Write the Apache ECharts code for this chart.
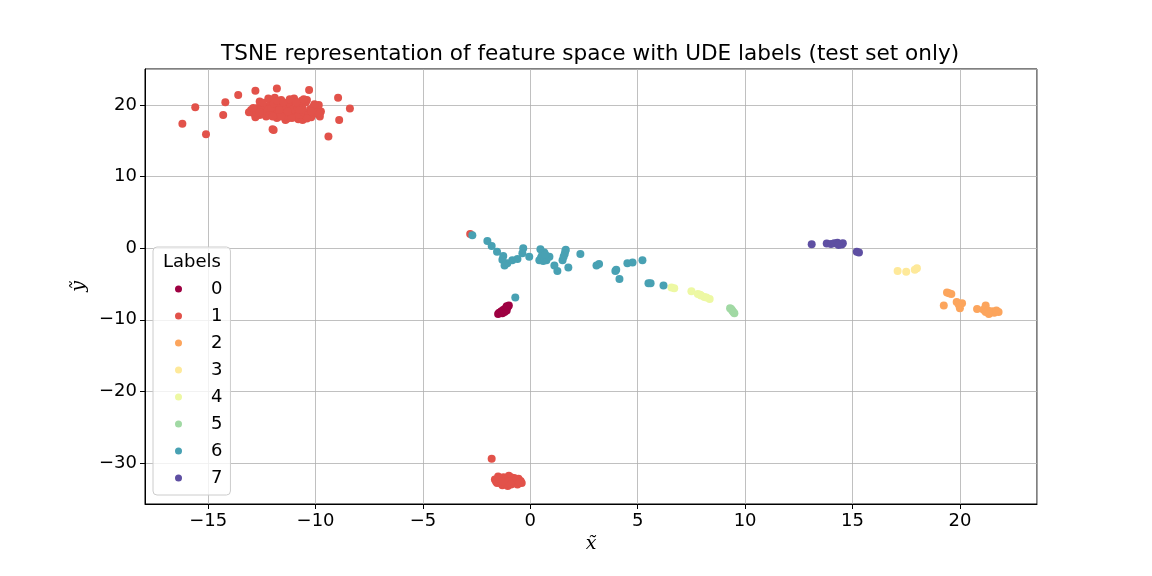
<!DOCTYPE html>
<html>
<head>
<meta charset="utf-8">
<script src="https://cdn.jsdelivr.net/npm/echarts@6/dist/echarts.min.js"></script>
<style>
  html, body { margin: 0; padding: 0; background: #fff; }
  #chart { width: 1152px; height: 576px; }
</style>
</head>
<body>
<div id="chart"></div>
<script>
  // label names and Spectral colours
  const labelNames = ["0", "1", "2", "3", "4", "5", "6", "7"];
  const labelColors = ["#9e0142", "#e2524a", "#fca55d", "#fee99a", "#edf8a3", "#a1d9a4", "#48a1b3", "#5e4fa2"];

  // tSNE points per label
  const label0 = [[-1.5, -9.2], [-1.45, -9.0], [-1.35, -8.8], [-1.3, -9.1], [-1.25, -8.6], [-1.2, -8.9],
    [-1.15, -8.4], [-1.1, -8.7], [-1.05, -8.2], [-1.0, -8.0], [-1.1, -8.1]];

  const label1 = [[-16.2, 17.4], [-15.6, 19.7], [-15.1, 15.9], [-14.3, 18.6], [-14.2, 20.4], [-13.6, 21.4],
    [-12.8, 22.0], [-11.8, 22.3], [-10.3, 22.1], [-8.95, 21.0], [-8.4, 19.5], [-8.9, 17.9], [-9.4, 15.6],
    [-12.0, 16.6], [-11.95, 16.5],
    [-13.0, 19.3], [-12.9, 18.9], [-12.7, 19.6], [-12.6, 18.6], [-12.5, 20.1], [-12.4, 19.0], [-12.3, 18.4],
    [-12.2, 19.8], [-12.1, 20.5], [-12.0, 18.9], [-11.9, 19.4], [-11.8, 18.2], [-11.7, 20.0], [-11.6, 20.7],
    [-11.5, 18.7], [-11.4, 19.3], [-11.3, 18.1], [-11.2, 19.9], [-11.1, 20.6], [-11.0, 18.5], [-10.9, 19.1],
    [-10.8, 18.0], [-10.7, 20.2], [-10.6, 19.5], [-10.5, 18.6], [-10.4, 20.7], [-10.3, 19.0], [-10.2, 18.3],
    [-10.1, 19.8], [-10.0, 18.8], [-9.9, 19.5], [-9.8, 18.4], [-9.75, 19.1], [-12.8, 18.3], [-12.2, 20.9],
    [-11.0, 20.9], [-11.4, 17.9], [-10.6, 17.9], [-12.6, 20.5], [-9.85, 20.0], [-11.9, 21.0], [-13.1, 19.0],
    [-10.45, 20.4], [-11.65, 19.6], [-12.35, 19.4],
    [-12.75, 19.0], [-12.55, 19.3], [-12.45, 18.8], [-12.25, 19.1], [-12.15, 18.6], [-12.05, 19.6],
    [-11.95, 20.2], [-11.85, 18.7], [-11.75, 19.1], [-11.55, 19.0], [-11.45, 18.4], [-11.35, 19.7],
    [-11.25, 20.3], [-11.15, 18.8], [-11.05, 19.4], [-10.95, 18.3], [-10.85, 19.7], [-10.75, 18.6],
    [-10.65, 20.6], [-10.55, 19.0], [-10.35, 18.6], [-10.25, 19.4], [-10.15, 18.9], [-10.05, 20.1],
    [-9.95, 19.0], [-9.8, 18.8], [-11.8, 20.6], [-11.5, 20.4], [-11.2, 20.8], [-10.9, 20.4], [-10.55, 20.8],
    [-12.45, 20.3], [-12.0, 18.4], [-11.6, 18.4], [-11.1, 18.2], [-10.4, 18.1], [-12.9, 19.6], [-12.6, 19.0],
    [-11.3, 19.1], [-10.75, 19.3], [-10.2, 19.1], [-11.7, 19.3],
    [-2.8, 2.0],
    [-1.8, -29.4], [-1.65, -32.3], [-1.55, -32.8], [-1.5, -31.9], [-1.4, -32.5], [-1.3, -33.1], [-1.25, -32.0],
    [-1.15, -32.6], [-1.05, -33.2], [-1.0, -31.8], [-0.95, -32.3], [-0.85, -32.9], [-0.75, -32.1], [-0.7, -32.6],
    [-0.6, -33.0], [-0.55, -32.2], [-0.45, -32.5], [-0.4, -32.8], [-1.35, -32.9], [-0.9, -32.0],
    [-1.6, -32.6], [-1.45, -32.2], [-1.2, -32.3], [-1.1, -32.9], [-0.8, -32.5], [-0.65, -32.3], [-0.5, -32.7],
    [-1.3, -32.6], [-1.0, -32.6], [-0.9, -33.0]];

  const label2 = [[19.4, -6.2], [19.6, -6.4], [19.5, -6.3], [19.25, -8.0], [19.85, -7.5], [20.1, -7.7],
    [20.0, -8.4], [19.95, -7.9], [20.8, -8.5], [21.2, -8.0], [21.1, -8.6], [21.2, -8.9], [21.3, -8.7],
    [21.4, -9.0], [21.5, -8.8], [21.6, -9.0], [21.7, -8.7], [21.8, -8.9], [21.35, -9.2]];

  const label3 = [[17.1, -3.2], [17.5, -3.3], [17.9, -3.0], [18.0, -2.8]];

  const label4 = [[6.57, -5.5], [6.7, -5.6], [7.5, -6.0], [7.8, -6.4], [7.95, -6.6], [8.1, -6.8],
    [8.35, -7.1], [8.2, -6.9], [7.9, -6.5]];

  const label5 = [[9.3, -8.4], [9.4, -8.7], [9.45, -8.9], [9.5, -9.1], [9.35, -8.5]];

  const label6 = [[-2.7, 1.8], [-2.0, 1.0], [-1.8, 0.3], [-1.55, -0.5], [-1.26, -1.1], [-1.07, -2.1],
    [-0.84, -1.7], [-0.6, -1.5], [-0.33, 0.0], [-0.37, -0.7], [-0.05, -1.2], [0.47, -0.14], [0.65, -0.6],
    [0.42, -1.7], [0.75, -1.7], [0.89, -1.2], [1.12, -2.4], [1.26, -3.2], [1.5, -1.7], [1.63, -0.4],
    [1.77, -2.7], [2.33, -0.8], [3.08, -2.4], [3.2, -2.2], [3.96, -3.2], [4.15, -4.3], [4.52, -2.1],
    [4.76, -2.0], [5.22, -1.7], [5.5, -4.9], [5.6, -4.9], [6.2, -5.2], [-0.7, -6.9],
    [-1.3, -1.6], [-1.2, -2.4], [0.5, -1.3], [0.6, -1.8], [0.55, -1.0], [0.7, -0.9],
    [1.6, -0.8], [1.55, -1.2], [1.65, -0.2], [4.0, -3.0]];

  const label7 = [[13.1, 0.56], [13.8, 0.65], [14.0, 0.6], [14.15, 0.7], [14.3, 0.75], [14.4, 0.6],
    [14.5, 0.5], [14.55, 0.7], [14.35, 0.45], [15.2, -0.5], [15.3, -0.6]];

  const labelData = [label0, label1, label2, label3, label4, label5, label6, label7];

  const xRange = [-17.94, 23.59];
  const yRange = [-35.73, 25.03];

  const fontFamily = "DejaVu Sans";
  const fmt = v => String(v).replace("-", "\u2212");

  const chart = echarts.init(document.getElementById("chart"));

  const series = labelNames.map((name, i) => ({
    name: name,
    type: "scatter",
    data: labelData[i],
    symbolSize: 8,
    itemStyle: { color: labelColors[i], opacity: 1 },
    emphasis: { disabled: true }
  }));

  chart.setOption({
    animation: false,
    textStyle: { fontFamily: fontFamily },
    title: {
      text: "TSNE representation of feature space with UDE labels (test set only)",
      left: 221,
      top: 43,
      padding: 0,
      textStyle: { fontSize: 21.6, fontWeight: "normal", color: "#000", fontFamily: fontFamily }
    },
    grid: {
      left: 145, right: 115, top: 69, bottom: 72,
      show: true, borderColor: "#000", borderWidth: 1, backgroundColor: "transparent"
    },
    xAxis: {
      type: "value",
      min: xRange[0], max: xRange[1],
      splitNumber: 8, minInterval: 5, maxInterval: 5,
      name: "x\u0303",
      nameLocation: "middle",
      nameGap: 30,
      nameTextStyle: { fontSize: 19, fontStyle: "italic", color: "#000", fontFamily: "DejaVu Serif" },
      axisLine: { show: true, onZero: false, lineStyle: { color: "#000", width: 1 } },
      axisTick: { show: true, length: 5, lineStyle: { color: "#000" } },
      axisLabel: { fontSize: 18, color: "#000", margin: 8, showMinLabel: false, showMaxLabel: false, formatter: fmt },
      splitLine: { show: true, lineStyle: { color: "#b0b0b0", width: 0.8 } }
    },
    yAxis: {
      type: "value",
      min: yRange[0], max: yRange[1],
      splitNumber: 6, minInterval: 10, maxInterval: 10,
      name: "y\u0303",
      nameLocation: "middle",
      nameGap: 55,
      nameTextStyle: { fontSize: 19, fontStyle: "italic", color: "#000", fontFamily: "DejaVu Serif" },
      axisLine: { show: true, onZero: false, lineStyle: { color: "#000", width: 1 } },
      axisTick: { show: true, length: 5, lineStyle: { color: "#000" } },
      axisLabel: { fontSize: 18, color: "#000", margin: 8, showMinLabel: false, showMaxLabel: false, formatter: fmt },
      splitLine: { show: true, lineStyle: { color: "#b0b0b0", width: 0.8 } }
    },
    legend: {
      orient: "vertical",
      left: 153,
      top: 247,
      data: labelNames,
      icon: "circle",
      itemWidth: 7,
      itemHeight: 7,
      itemGap: 9,
      padding: [33, 8, 8, 22],
      backgroundColor: "rgba(255,255,255,0.8)",
      borderColor: "#cccccc",
      borderWidth: 1,
      borderRadius: 4,
      textStyle: { fontSize: 18, lineHeight: 18, color: "#000", fontFamily: fontFamily, padding: [0, 0, 0, 24] },
      selectedMode: false
    },
    graphic: [{
      type: "text",
      left: 163,
      top: 253,
      z: 100,
      style: { text: "Labels", fontSize: 18, fill: "#000", fontFamily: fontFamily }
    }],
    series: series
  });
</script>
</body>
</html>
